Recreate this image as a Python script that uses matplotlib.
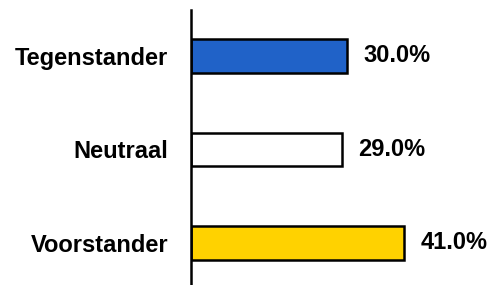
import matplotlib.pyplot as plt

# data
categories = ['Tegenstander', 'Neutraal', 'Voorstander']
values = [30.0, 29.0, 41.0]
colors = ['#2062C8', '#FFFFFF', '#FFD200']

plt.rcParams['font.family'] = ['Liberation Sans', 'DejaVu Sans']

fig = plt.figure(figsize=(4.88, 2.85), dpi=100)
ax = fig.add_axes([190.7 / 488, 0.0, 296.4 / 488, 1 - 10 / 285])

pos = list(range(len(categories)))
ax.barh(pos, values, height=0.357, color=colors, edgecolor='black', linewidth=1.8)

# percentage labels next to each bar
for y, v in zip(pos, values):
    ax.annotate(f'{v:.1f}%', xy=(v, y), xytext=(12, 0), textcoords='offset points',
                va='center', ha='left', fontsize=17, fontweight='bold')

ax.set_xlim(0, 57)
ax.set_ylim(2.45, -0.49)
ax.set_yticks(pos)
ax.set_yticklabels(categories, fontsize=17, fontweight='bold')
ax.tick_params(axis='y', length=0, pad=16)
ax.set_xticks([])

for side in ['top', 'right', 'bottom']:
    ax.spines[side].set_visible(False)
ax.spines['left'].set_linewidth(1.8)

fig.savefig('out.png', dpi=100)
